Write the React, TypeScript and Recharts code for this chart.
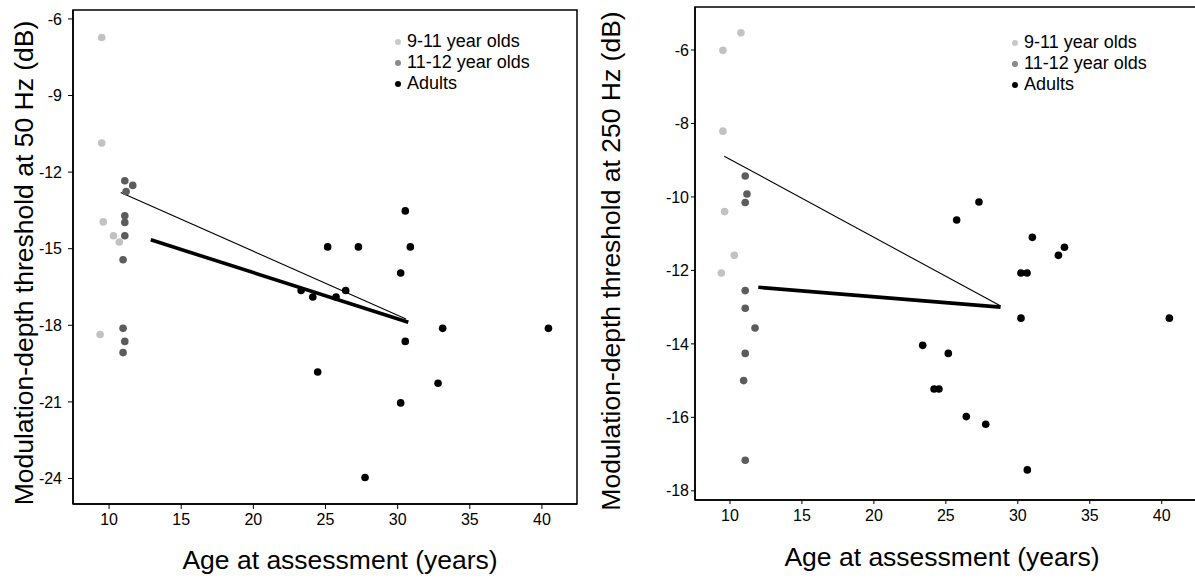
import React from 'react';
import { ScatterChart, Scatter, XAxis, YAxis, ReferenceLine, ReferenceArea } from 'recharts';

const FONT = '"Liberation Sans", Arial, Helvetica, sans-serif';

// ---------- 50 Hz panel ----------
const kids911_50_age = [9.49, 9.49, 9.6, 10.3, 10.71, 9.38];
const kids911_50_thr = [-6.73, -10.86, -13.95, -14.49, -14.74, -18.36];
const kids1112_50_age = [11.09, 11.64, 11.18, 11.09, 11.09, 11.09, 10.97, 10.97, 11.09, 10.97];
const kids1112_50_thr = [-12.34, -12.52, -12.76, -13.71, -13.97, -14.49, -15.43, -18.12, -18.63, -19.07];
const adults_50_age = [30.53, 25.15, 27.28, 30.88, 30.21, 26.4, 23.31, 24.12, 25.73, 33.12, 40.45, 30.53, 24.46, 32.8, 30.21, 27.74];
const adults_50_thr = [-13.52, -14.93, -14.93, -14.93, -15.95, -16.64, -16.64, -16.89, -16.89, -18.12, -18.12, -18.63, -19.83, -20.27, -21.04, -23.96];
const fitAll_50 = [[10.81, -12.8], [30.58, -17.75]];
const fitAdultsKids_50 = [[12.89, -14.65], [30.74, -17.88]];
const yTicks_50 = [-24, -21, -18, -15, -12, -9, -6];
const yDomain_50 = [-25.0, -5.65];

// ---------- 250 Hz panel ----------
const kids911_250_age = [10.76, 9.51, 9.51, 9.63, 10.3, 9.4];
const kids911_250_thr = [-5.53, -6.01, -8.21, -10.4, -11.59, -12.07];
const kids1112_250_age = [11.06, 11.18, 11.06, 11.06, 11.06, 11.74, 11.06, 10.95, 11.06];
const kids1112_250_thr = [-9.43, -9.92, -10.15, -12.55, -13.03, -13.57, -14.26, -15.0, -17.17];
const adults_250_age = [27.3, 25.75, 31.01, 33.24, 32.82, 30.22, 30.64, 30.22, 40.53, 23.39, 25.17, 24.18, 24.52, 26.42, 27.77, 30.66];
const adults_250_thr = [-10.14, -10.63, -11.1, -11.37, -11.59, -12.07, -12.07, -13.3, -13.3, -14.04, -14.26, -15.23, -15.23, -15.98, -16.19, -17.43];
const fitAll_250 = [[9.6, -8.89], [28.81, -12.97]];
const fitAdultsKids_250 = [[11.97, -12.46], [28.8, -13.0]];
const yTicks_250 = [-18, -16, -14, -12, -10, -8, -6];
const yDomain_250 = [-18.25, -4.83];

// ---------- shared ----------
const xTicks = [10, 15, 20, 25, 30, 35, 40];
const groupNames = ['9-11 year olds', '11-12 year olds', 'Adults'];
const groupColors = ['#c2c2c2', '#5c5c5c', '#000000'];
const legendDotColors = ['#c8c8c8', '#8a8a8a', '#000000'];
const xTitle = 'Age at assessment (years)';

const zip = (xs: number[], ys: number[]) => xs.map((x, i) => ({ x, y: ys[i] }));

const dot = (color: string) => (props: any) => (
  <circle cx={props.cx} cy={props.cy} r={3.8} fill={color} />
);

const YTitle = ({ text, px, py }: any) => (
  <text x={px} y={py} transform={`rotate(-90, ${px}, ${py})`} textAnchor="middle"
    fontFamily={FONT} fontSize={26.5} fill="#000">{text}</text>
);
const XTitle = ({ text, px, py }: any) => (
  <text x={px} y={py} textAnchor="middle" fontFamily={FONT} fontSize={26.5} fill="#000">{text}</text>
);

function LegendBox({ left, top }: { left: number; top: number }) {
  return (
    <div style={{ position: 'absolute', left, top, fontFamily: FONT, fontSize: 18, lineHeight: '21px', color: '#000' }}>
      {groupNames.map((n, i) => (
        <div key={n} style={{ display: 'flex', alignItems: 'center', whiteSpace: 'nowrap' }}>
          <span style={{ display: 'inline-block', width: 6, height: 6, borderRadius: 3, background: legendDotColors[i], marginRight: 6 }} />
          <span>{n}</span>
        </div>
      ))}
    </div>
  );
}

interface PanelProps {
  left: number; width: number; margin: any; yAxisWidth: number; xAxisHeight: number;
  xDomain: number[]; yDomain: number[]; yTicks: number[];
  g1: any[]; g2: any[]; g3: any[]; thin: number[][]; thick: number[][];
  yTitle: string; yTitlePos: number[]; xTitlePos: number[];
  tickSize: number; yTickMargin: number; xTickMargin: number; legendPos: number[];
}

function Panel(p: PanelProps) {
  const tickStyle = { fill: '#000', fontSize: 16, fontFamily: FONT };
  return (
    <div style={{ position: 'absolute', left: p.left, top: 0, width: p.width, height: 579 }}>
      <ScatterChart width={p.width} height={579} margin={p.margin}>
        <XAxis type="number" dataKey="x" domain={p.xDomain} ticks={xTicks} allowDataOverflow
          height={p.xAxisHeight} tick={tickStyle} tickSize={p.tickSize} tickMargin={p.xTickMargin}
          axisLine={{ stroke: '#000', strokeWidth: 1.5 }} tickLine={{ stroke: '#000' }}
          label={<XTitle text={xTitle} px={p.xTitlePos[0]} py={p.xTitlePos[1]} />} />
        <YAxis type="number" dataKey="y" domain={p.yDomain} ticks={p.yTicks} allowDataOverflow
          width={p.yAxisWidth} tick={tickStyle} tickSize={p.tickSize} tickMargin={p.yTickMargin}
          axisLine={{ stroke: '#000', strokeWidth: 1.5 }} tickLine={{ stroke: '#000' }}
          label={<YTitle text={p.yTitle} px={p.yTitlePos[0]} py={p.yTitlePos[1]} />} />
        <ReferenceArea x1={p.xDomain[0]} x2={p.xDomain[1]} y1={p.yDomain[0]} y2={p.yDomain[1]}
          fill="none" fillOpacity={0} stroke="#000" strokeWidth={1.5} ifOverflow="visible" />
        <ReferenceLine segment={[{ x: p.thin[0][0], y: p.thin[0][1] }, { x: p.thin[1][0], y: p.thin[1][1] }]}
          stroke="#000" strokeWidth={1.1} ifOverflow="visible" />
        <ReferenceLine segment={[{ x: p.thick[0][0], y: p.thick[0][1] }, { x: p.thick[1][0], y: p.thick[1][1] }]}
          stroke="#000" strokeWidth={3.6} ifOverflow="visible" />
        <Scatter name={groupNames[0]} data={p.g1} shape={dot(groupColors[0])} isAnimationActive={false} />
        <Scatter name={groupNames[1]} data={p.g2} shape={dot(groupColors[1])} isAnimationActive={false} />
        <Scatter name={groupNames[2]} data={p.g3} shape={dot(groupColors[2])} isAnimationActive={false} />
      </ScatterChart>
      <LegendBox left={p.legendPos[0]} top={p.legendPos[1]} />
    </div>
  );
}

export default function App() {
  return (
    <div style={{ position: 'absolute', left: 0, top: 0, width: 1195, height: 579, overflow: 'hidden', background: '#fff' }}>
      <Panel left={0} width={590} margin={{ top: 10, right: 13, bottom: 0, left: 0 }}
        yAxisWidth={73} xAxisHeight={75} xDomain={[7.5, 42.43]} yDomain={yDomain_50} yTicks={yTicks_50}
        g1={zip(kids911_50_age, kids911_50_thr)} g2={zip(kids1112_50_age, kids1112_50_thr)} g3={zip(adults_50_age, adults_50_thr)}
        thin={fitAll_50} thick={fitAdultsKids_50}
        yTitle="Modulation-depth threshold at 50 Hz (dB)" yTitlePos={[33, 263]} xTitlePos={[340, 569]}
        tickSize={5} yTickMargin={6} xTickMargin={5} legendPos={[395, 31]} />
      <Panel left={590} width={610} margin={{ top: 7, right: 3, bottom: 0, left: 0 }}
        yAxisWidth={105} xAxisHeight={79} xDomain={[7.57, 42.45]} yDomain={yDomain_250} yTicks={yTicks_250}
        g1={zip(kids911_250_age, kids911_250_thr)} g2={zip(kids1112_250_age, kids1112_250_thr)} g3={zip(adults_250_age, adults_250_thr)}
        thin={fitAll_250} thick={fitAdultsKids_250}
        yTitle="Modulation-depth threshold at 250 Hz (dB)" yTitlePos={[30, 261]} xTitlePos={[352, 566]}
        tickSize={4} yTickMargin={2} xTickMargin={6} legendPos={[422, 32]} />
    </div>
  );
}
